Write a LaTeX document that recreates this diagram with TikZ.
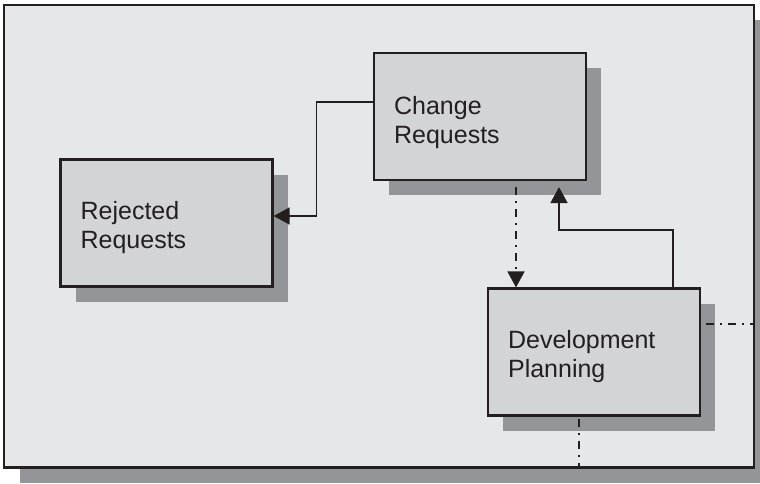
\documentclass[tikz,border=0pt]{standalone}
\usepackage{fontspec}
\setmainfont{Liberation Sans}
\usetikzlibrary{arrows.meta,calc}
\definecolor{bgc}{HTML}{E6E7E8}
\definecolor{boxc}{HTML}{D3D4D6}
\definecolor{shadc}{HTML}{939598}
\definecolor{inkc}{HTML}{231F20}
\tikzset{
  x=1pt, y=-1pt,
  shadowbox/.style={draw=inkc, line width=2.2pt, fill=boxc, rectangle, inner sep=0pt,
    minimum width=212pt, minimum height=127pt,
    preaction={fill=shadc, draw=none, transform canvas={xshift=15pt, yshift=-15pt}}},
  lbl/.style={anchor=north west, inner sep=0pt, align=left, text=inkc,
    font=\fontsize{25}{29}\selectfont},
  arr/.style={draw=inkc, line width=1.8pt, -{Triangle[length=16pt,width=17pt]}},
  dd/.style={draw=inkc, line width=1.8pt, dash pattern=on 8pt off 6pt on 2pt off 6pt},
  ddarr/.style={dd, -{Triangle[length=16pt,width=17pt]}}
}
\begin{document}
\begin{tikzpicture}
\useasboundingbox (0,0) rectangle (760,483);
% frame
\fill[shadc] (20,20) rectangle (760,483);
\node[draw=inkc, line width=2.5pt, fill=bgc, rectangle, inner sep=0pt,
  minimum width=750pt, minimum height=462.5pt] (frame) at (379,236.25) {};
% boxes
\node[shadowbox] (cr) at (480,116.5) {};
\node[shadowbox] (rr) at (166.5,223) {};
\node[shadowbox] (dp) at (594,352) {};
% labels
\node[lbl] (crl) at ($(cr.north west)+(21,44.5)$) {Change\\Requests};
\node[lbl] (rrl) at ($(rr.north west)+(21,42.8)$) {Rejected\\Requests};
\node[lbl] (dpl) at ($(dp.north west)+(21,42.8)$) {Development\\Planning};
% connectors
\coordinate (a1) at ([yshift=14.5pt]cr.west);
\coordinate (a2) at ([yshift=7pt]rr.east);
\draw[arr] (a1) -- (316.5,0 |- a1) |- (a2);
\coordinate (c1) at ([xshift=36pt]cr.south);
\draw[ddarr, shorten <=6pt] (c1) -- (c1 |- dp.north);
\coordinate (d1) at ([xshift=79pt]dp.north);
\coordinate (c2) at ([xshift=79pt]cr.south);
\draw[arr, shorten >=6pt] (d1) -- ++(0,-57.5) -| (c2);
\coordinate (d2) at ([yshift=28pt]dp.east);
\draw[dd, shorten <=5pt] (d2) -- (d2 -| frame.east);
\coordinate (d3) at ([xshift=-15pt]dp.south);
\draw[dd, shorten <=2pt] (d3) -- (d3 |- frame.south);
\end{tikzpicture}
\end{document}
